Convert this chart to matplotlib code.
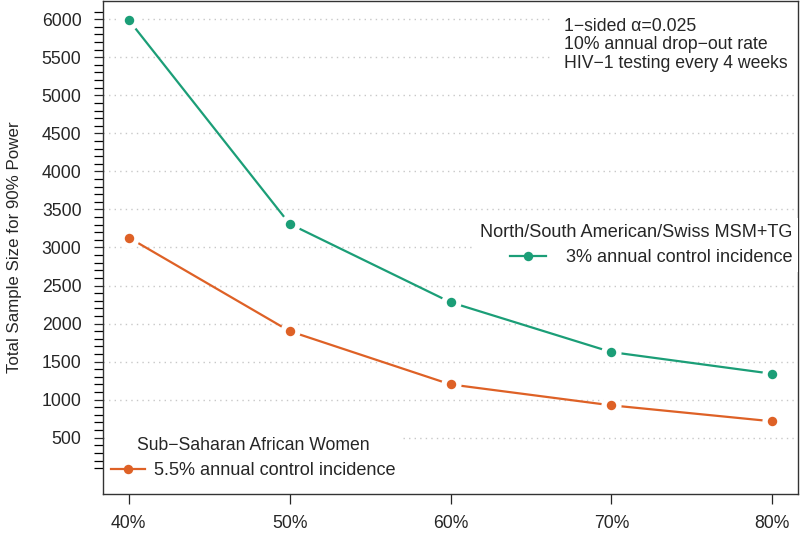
import matplotlib
matplotlib.use('Agg')
import matplotlib.pyplot as plt
from matplotlib.lines import Line2D
import numpy as np

plt.rcParams['font.family'] = ['Liberation Sans', 'DejaVu Sans']

# data
power = [40, 50, 60, 70, 80]
power_labels = ['40%', '50%', '60%', '70%', '80%']
n_msm = [5990, 3310, 2280, 1625, 1340]
n_ssa = [3130, 1900, 1200, 925, 715]

msm_title = 'North/South American/Swiss MSM+TG'
msm_label = '3% annual control incidence'
ssa_title = 'Sub\u2212Saharan African Women'
ssa_label = '5.5% annual control incidence'
notes = ['1\u2212sided \u03b1=0.025',
         '10% annual drop\u2212out rate',
         'HIV\u22121 testing every 4 weeks']

green = '#1B9E77'
orange = '#DE6126'
text_col = '#262626'
fs = 12.7
leg_fs = 13.1

fig = plt.figure(figsize=(8, 5.33), dpi=100)
ax = fig.add_axes([0.12875, 0.0732, 0.86875, 0.925])


def draw_series(x, y, color):
    # R type="b": line with gaps around the points
    ax.plot(x, y, color=color, lw=1.6, zorder=2, solid_capstyle='butt')
    ax.plot(x, y, ls='none', marker='o', ms=14.5, mfc='white', mec='none', zorder=2.1)
    ax.plot(x, y, ls='none', marker='o', ms=6.8, mfc=color, mec='none', zorder=2.2)


draw_series(power, n_msm, green)
draw_series(power, n_ssa, orange)

ax.set_xlim(38.4, 81.6)
ax.set_ylim(-240, 6240)
ax.set_xticks(power)
ax.set_xticklabels(power_labels)
ax.set_yticks(np.arange(500, 6001, 500))
ax.set_yticks(np.arange(100, 6101, 100), minor=True)

ax.tick_params(axis='both', colors=text_col, labelsize=fs, width=0.9)
ax.tick_params(axis='x', length=7.5, pad=7.5)
ax.tick_params(axis='y', which='both', length=6.5, pad=9, width=0.9)
ax.set_ylabel('Total Sample Size for 90% Power', fontsize=12.2, color=text_col, labelpad=14)

for s in ax.spines.values():
    s.set_color('#333333')
    s.set_linewidth(1.0)

ax.set_axisbelow(True)
ax.yaxis.grid(True, which='major', color='#c8c8c8', lw=1.0, ls=(0, (1, 3)))

# legends
h_msm = Line2D([], [], color=green, lw=1.6, marker='o', ms=6.8, mec='none')
h_ssa = Line2D([], [], color=orange, lw=1.6, marker='o', ms=6.8, mec='none')

leg1 = ax.legend([h_msm], [msm_label], title=msm_title, loc='center right',
                 bbox_to_anchor=(1.0, 0.505), fontsize=leg_fs, title_fontsize=leg_fs,
                 frameon=True, facecolor='white', edgecolor='none', framealpha=1,
                 fancybox=False, borderpad=0.3, borderaxespad=0, handlelength=2.0,
                 handletextpad=1.1, labelspacing=0.45, alignment='right')
for t in leg1.get_texts() + [leg1.get_title()]:
    t.set_color(text_col)
ax.add_artist(leg1)

leg2 = ax.legend([h_ssa], [ssa_label], title=ssa_title, loc='center left',
                 bbox_to_anchor=(0.003, 0.073), fontsize=leg_fs, title_fontsize=fs,
                 frameon=True, facecolor='white', edgecolor='none', framealpha=1,
                 fancybox=False, borderpad=0.3, borderaxespad=0, handlelength=1.9,
                 handletextpad=0.5, labelspacing=0.45, alignment='center')
for t in leg2.get_texts() + [leg2.get_title()]:
    t.set_color(text_col)

ax.text(0.663, 0.911, '\n'.join(notes), transform=ax.transAxes, ha='left', va='center',
        fontsize=fs, color=text_col, linespacing=1.1, zorder=1,
        bbox=dict(boxstyle='square,pad=0.6', fc='white', ec='none'))

fig.savefig('out.png', dpi=100)
